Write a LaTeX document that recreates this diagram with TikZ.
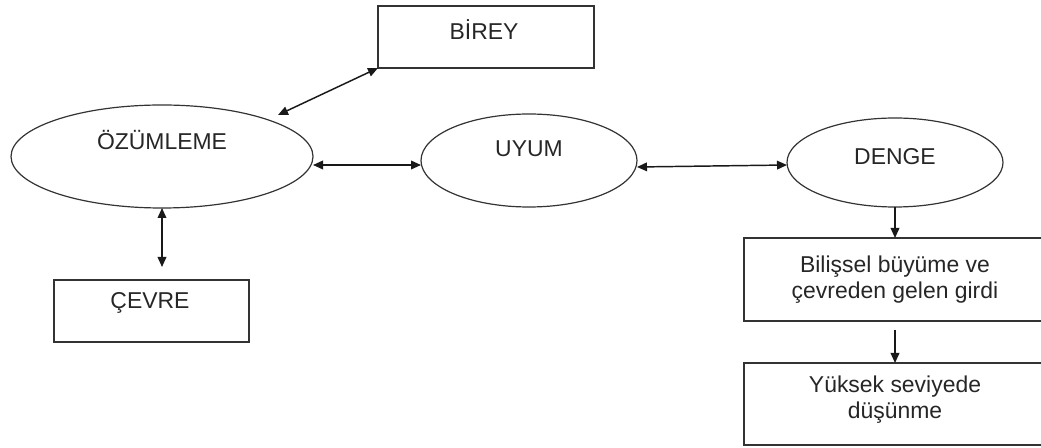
\documentclass[tikz,border=0pt]{standalone}
\usepackage{fontspec}
\setmainfont{Liberation Sans}
\usetikzlibrary{arrows.meta,shapes.geometric}
\begin{document}
\begin{tikzpicture}[x=0.75pt,y=-0.75pt,
  every node/.style={inner sep=0pt,outer sep=0pt},
  ell/.style={draw=black!80,line width=0.9pt,ellipse},
  box/.style={draw=black!80,line width=1.2pt,rectangle},
  lbl/.style={font=\fontsize{17.2}{19.5}\selectfont,text=black!85,align=center},
  tip/.style={line width=1.1pt,draw=black!90,-{Triangle[length=7.5pt,width=6.5pt]}},
  dbl/.style={line width=1.1pt,draw=black!90,{Triangle[length=7.5pt,width=6.5pt]}-{Triangle[length=7.5pt,width=6.5pt]}}]
\useasboundingbox (0,0) rectangle (1041,448);
\clip (0,0) rectangle (1041,448);
% shapes
\node[box,minimum width=162pt,minimum height=46.5pt] (bir) at (486,37) {};
\node[lbl] (birt) at (484,30) {BİREY};
\node[ell,minimum width=226.5pt,minimum height=77.25pt] (oz) at (162,156.5) {};
\node[lbl] (ozt) at (162,140) {ÖZÜMLEME};
\node[ell,minimum width=162pt,minimum height=69.75pt] (uy) at (529,160.5) {};
\node[lbl] (uyt) at (529,149) {UYUM};
\node[ell,minimum width=162pt,minimum height=66.75pt] (de) at (895,162.5) {};
\node[lbl] (det) at (895,157) {DENGE};
\node[box,minimum width=146.25pt,minimum height=46.5pt] (cev) at (151.5,311) {};
\node[lbl] (cevt) at (150,303) {ÇEVRE};
\node[box,minimum width=226.5pt,minimum height=62.25pt] (bil) at (895,279.5) {};
\node[lbl] (bilt) at (895,280) {Bilişsel büyüme ve\\çevreden gelen girdi};
\node[box,minimum width=226.5pt,minimum height=61.5pt] (yuk) at (895,404) {};
\node[lbl] (yukt) at (895,400) {Yüksek seviyede\\düşünme};
% connectors
\coordinate (ozb) at (278,115);
\draw[dbl] (bir.south west) -- (ozb);
\draw[dbl] (oz.east |- 0,165) -- (uy.west |- 0,165);
\draw[dbl] (uy.east |- 0,167) -- (de.west |- 0,165);
\draw[dbl,shorten >=9.75pt] (oz.south) -- (oz.south |- cev.north);
\draw[tip] (de.south) -- (bil.north);
\draw[tip,shorten <=6.75pt] (bil.south) -- (yuk.north);
\end{tikzpicture}
\end{document}
